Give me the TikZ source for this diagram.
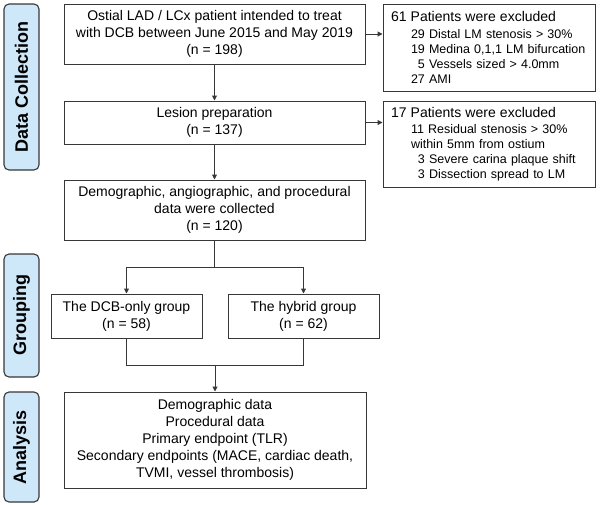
\documentclass[tikz,border=0pt]{standalone}
\usepackage{fontspec}
\setmainfont{Liberation Sans}
\usetikzlibrary{arrows.meta}
\definecolor{lblfill}{RGB}{206,232,250}
\definecolor{ln}{RGB}{55,55,55}
\begin{document}
\begin{tikzpicture}[x=1pt,y=-1pt,
  box/.style={draw=ln, line width=1pt, align=center, inner sep=0pt,
    font=\fontsize{14}{17}\selectfont},
  exbox/.style={draw=ln, line width=1pt, align=left, inner xsep=8pt, inner ysep=0pt,
    text width=196pt, font=\fontsize{12.5}{15}\selectfont},
  sidelbl/.style={draw=ln, line width=1.1pt, fill=lblfill, rounded corners=5pt,
    rotate=90, minimum height=35pt, inner sep=0pt,
    font=\fontsize{18}{20}\selectfont\bfseries},
  conn/.style={draw=ln, line width=1pt},
  arr/.style={conn, -{Triangle[length=5pt,width=5pt]}}]
\useasboundingbox (0,0) rectangle (600,504);

% side labels
\node[sidelbl, minimum width=166pt] (sDC) at (21.5,87) {Data Collection};
\node[sidelbl, minimum width=123pt] (sGR) at (21.5,315.5) {Grouping};
\node[sidelbl, minimum width=110pt] (sAN) at (21.5,447) {Analysis};

% main boxes
\node[box, minimum width=301pt, minimum height=60pt] (b1) at (214.5,34)
  {Ostial LAD / LCx patient intended to treat\\with DCB between June 2015 and May 2019\\(n = 198)};
\node[box, minimum width=301pt, minimum height=43pt] (b2) at (214.5,122.5)
  {Lesion preparation\\(n = 137)};
\node[box, minimum width=301pt, minimum height=60pt] (b3) at (214.5,210)
  {Demographic, angiographic, and procedural\\data were collected\\(n = 120)};
\node[box, minimum width=151pt, minimum height=44pt] (g1) at (126.5,316)
  {The DCB-only group\\(n = 58)};
\node[box, minimum width=151pt, minimum height=44pt] (g2) at (303.5,316)
  {The hybrid group\\(n = 62)};
\node[box, minimum width=302pt, minimum height=96pt] (an) at (215,440)
  {Demographic data\\Procedural data\\Primary endpoint (TLR)\\Secondary endpoints (MACE, cardiac death,\\TVMI, vessel thrombosis)};

% exclusion boxes
\node[exbox, minimum height=87pt] (e1) at (489,47.5)
  {{\fontsize{14}{17}\selectfont 61 Patients were excluded}\\[1.5pt]
   \hspace*{20pt}29 Distal LM stenosis > 30\%\\
   \hspace*{20pt}19 Medina 0,1,1 LM bifurcation\\
   \hspace*{20pt}\phantom{0}5 Vessels sized > 4.0mm\\
   \hspace*{20pt}27 AMI};
\node[exbox, minimum height=86pt] (e2) at (489,144)
  {{\fontsize{14}{17}\selectfont 17 Patients were excluded}\\[1.5pt]
   \hspace*{20pt}11 Residual stenosis > 30\%\\
   \hspace*{20pt}within 5mm from ostium\\
   \hspace*{20pt}\phantom{0}3 Severe carina plaque shift\\
   \hspace*{20pt}\phantom{0}3 Dissection spread to LM};

% connectors
\draw[arr] (b1.south) -- (b2.north);
\draw[arr] (b2.south) -- (b3.north);
\draw[arr] (b1.east) -- (b1.east -| e1.west);
\draw[arr] (b2.east) -- (b2.east -| e2.west);
\coordinate (split) at (214.5,267);
\draw[conn] (b3.south) -- (split);
\draw[arr] (split) -| (g1.north);
\draw[arr] (split) -| (g2.north);
\coordinate (join) at (215,365);
\draw[conn] (g1.south) |- (g2.south |- join) -- (g2.south);
\draw[arr] (join) -- (an.north);
\end{tikzpicture}
\end{document}
